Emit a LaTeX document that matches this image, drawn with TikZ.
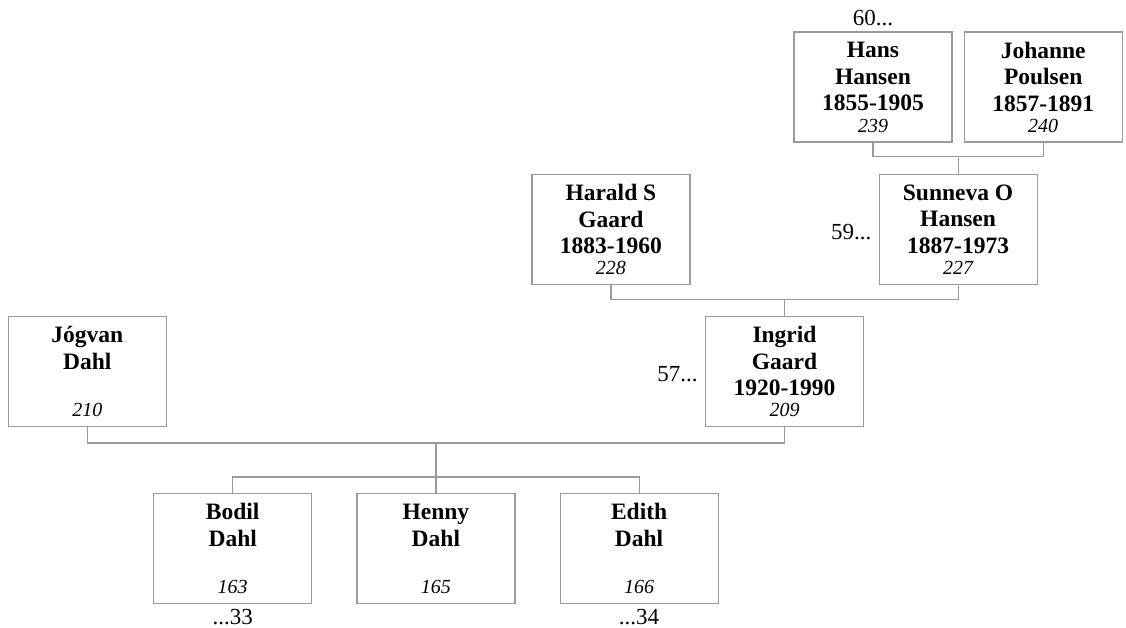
\documentclass[tikz,border=0pt]{standalone}
\usepackage{fontspec}
\setmainfont{Liberation Serif}
\usetikzlibrary{positioning, calc}

\definecolor{boxgray}{HTML}{9A9A9A}
\definecolor{linegray}{HTML}{9A9A9A}

% card text: name lines at the top, number at the bottom
\newcommand{\pcard}[2]{\parbox[c][110pt][t]{150pt}{\centering\bfseries
  \vspace*{10pt}\rule{0pt}{16pt}#1\par\vfill
  {\mdseries\itshape\fontsize{20}{21}\selectfont #2\par}\vspace*{9.5pt}}}

\begin{document}
\begin{tikzpicture}[
    x=1pt, y=1pt,
    person/.style={rectangle, draw=boxgray, line width=1.2pt, fill=white, inner xsep=4pt, inner ysep=0pt, minimum width=158pt, minimum height=110pt, font=\fontsize{23.5}{26.5}\selectfont},
    link/.style={draw=linegray, line width=1.2pt},
    more/.style={inner sep=0pt, font=\fontsize{23}{26}\selectfont}
]
\useasboundingbox (0,0) rectangle (1126,-628);

% Great-grandparents
\node[person] (hans) at (873,-87) {\pcard{Hans\\Hansen\\1855-1905}{239}};
\node[person, right=11pt of hans] (johanne) {\pcard{Johanne\\Poulsen\\1857-1891}{240}};
\coordinate (hj) at ($(hans.south)!.5!(johanne.south)+(0,-14)$);

% Grandparents
\node[person, below=17pt of hj] (sunneva) {\pcard{Sunneva O\\Hansen\\1887-1973}{227}};
\node[person, left=188pt of sunneva] (harald) {\pcard{Harald S\\Gaard\\1883-1960}{228}};
\coordinate (hs) at ($(harald.south)!.5!(sunneva.south)+(0,-15)$);

% Parents
\node[person, below=16pt of hs] (ingrid) {\pcard{Ingrid\\Gaard\\1920-1990}{209}};
\node[person, left=538pt of ingrid] (jogvan) {\pcard{Jógvan\\Dahl}{210}};
\coordinate (ji) at ($(jogvan.south)!.5!(ingrid.south)+(0,-16)$);

% Children
\node[person, below=50pt of ji] (henny) {\pcard{Henny\\Dahl}{165}};
\node[person, left=44pt of henny] (bodil) {\pcard{Bodil\\Dahl}{163}};
\node[person, right=44pt of henny] (edith) {\pcard{Edith\\Dahl}{166}};
\coordinate (kids) at ($(ji)+(0,-34)$);

% Continuation marks
\node[more, above=5pt of hans] (hans-more) {60...};
\node[more, left=7pt of sunneva, yshift=-3pt] (sunneva-more) {59...};
\node[more, left=7pt of ingrid, yshift=-3pt] (ingrid-more) {57...};
\node[more, below=5pt of bodil] (bodil-more) {...33};
\node[more, below=5pt of edith] (edith-more) {...34};

% Links
\draw[link] (hans.south) |- (hj) -| (johanne.south);
\draw[link] (hj) -- (sunneva.north);
\draw[link] (harald.south) |- (hs) -| (sunneva.south);
\draw[link] (hs) -- (ingrid.north);
\draw[link] (jogvan.south) |- (ji) -| (ingrid.south);
\draw[link] (ji) -- (henny.north);
\draw[link] (bodil.north) |- (kids) -| (edith.north);
\end{tikzpicture}
\end{document}
